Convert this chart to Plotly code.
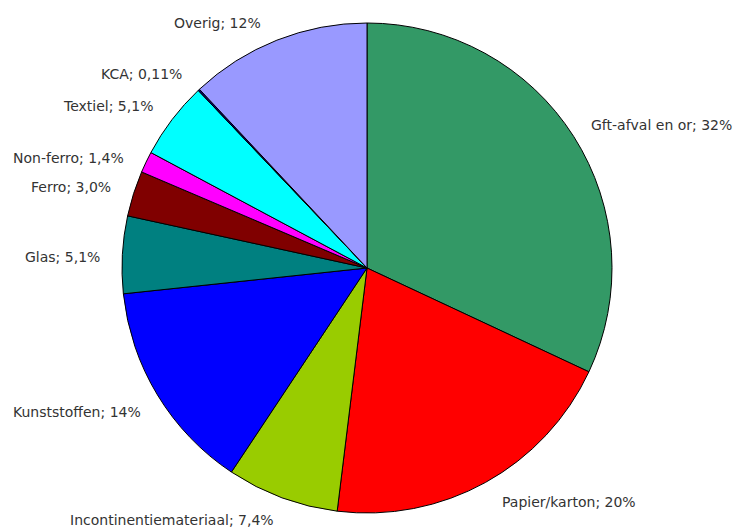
import math
import plotly.graph_objects as go

# Composition of household residual waste (share by weight)
categories = [
    "Gft-afval en or", "Papier/karton", "Incontinentiemateriaal", "Kunststoffen",
    "Glas", "Ferro", "Non-ferro", "Textiel", "KCA", "Overig",
]
shares = [32, 20, 7.4, 14, 5.1, 3.0, 1.4, 5.1, 0.11, 12]
decimals = [0, 0, 1, 0, 1, 1, 1, 1, 2, 0]

colors = [
    "#339966", "#FF0000", "#99CC00", "#0000FF", "#008080",
    "#800000", "#FF00FF", "#00FFFF", "#000080", "#9999FF",
]

W, H = 737, 527
CX, CY, R = 367, 268, 245          # pie centre and radius in pixels
LABEL_GAP = 22                      # distance of labels outside the rim
TEXT_COLOR = "#333333"
FONT = "Verdana, DejaVu Sans, sans-serif"

# small label nudges (px) where the plain rim rule crowds neighbours
label_shift = {
    "Gft-afval en or": (-3, 0),
    "Papier/karton": (4, 0),
    "Incontinentiemateriaal": (2, 2),
    "Kunststoffen": (4, 6),
    "Non-ferro": (0, 5),
    "Glas": (2, 4),
    "Overig": (-6, 3),
}


def nl_number(v, d):
    return f"{v:.{d}f}".replace(".", ",")


fig = go.Figure(
    go.Pie(
        labels=categories,
        values=shares,
        sort=False,
        direction="clockwise",
        rotation=0,
        marker=dict(colors=colors, line=dict(color="#000000", width=1)),
        textinfo="none",
        hoverinfo="label+percent",
        showlegend=False,
        domain=dict(
            x=[(CX - R) / W, (CX + R) / W],
            y=[(H - CY - R) / H, (H - CY + R) / H],
        ),
    )
)

# place "Name; value%" labels just outside each slice's mid-angle
total = sum(shares)
cum = 0.0
for name, v, d in zip(categories, shares, decimals):
    mid = (cum + v / 2) / total * 2 * math.pi
    cum += v
    dx, dy = math.sin(mid), -math.cos(mid)
    sx, sy = label_shift.get(name, (0, 0))
    px = CX + dx * (R + LABEL_GAP) + sx
    py = CY + dy * (R + LABEL_GAP) + sy
    fig.add_annotation(
        x=px / W, y=1 - py / H, xref="paper", yref="paper",
        text=f"{name}; {nl_number(v, d)}%",
        showarrow=False,
        xanchor="left" if dx > 0 else "right",
        yanchor="middle",
        font=dict(family=FONT, size=14, color=TEXT_COLOR),
    )

fig.update_layout(
    width=W, height=H,
    margin=dict(l=0, r=0, t=0, b=0),
    paper_bgcolor="#FFFFFF",
    plot_bgcolor="#FFFFFF",
)

fig.write_html("out.html")
